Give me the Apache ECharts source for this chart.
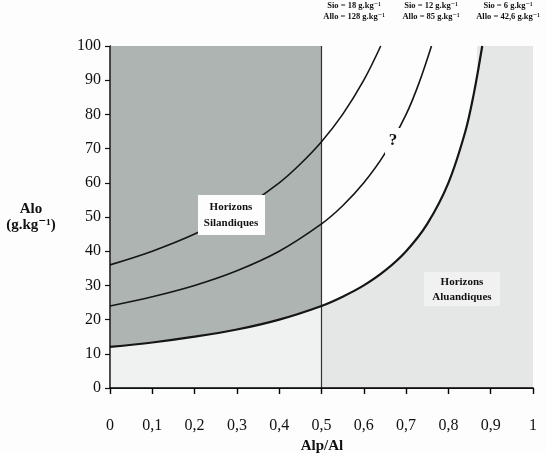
<!DOCTYPE html>
<html>
<head>
<meta charset="utf-8">
<script src="https://cdn.jsdelivr.net/npm/echarts@6/dist/echarts.min.js"></script>
<style>
html,body{margin:0;padding:0;background:#fdfdfd;}
#chart{width:547px;height:453px;}
</style>
</head>
<body>
<div id="chart"></div>
<script>
// Data
const xTicks = [0,0.1,0.2,0.3,0.4,0.5,0.6,0.7,0.8,0.9,1];
const yTicks = [0,10,20,30,40,50,60,70,80,90,100];

const xBottom = [0,0.1,0.2,0.3,0.4,0.5,0.55,0.6,0.65,0.7,0.75,0.8,0.84,0.86,0.88];
const yBottom = [12,13.3,15,17.1,20,24,26.7,30,34.3,40,48,60,75,86,100];

const xMiddle = [0,0.1,0.2,0.3,0.4,0.5,0.55,0.6,0.65,0.7,0.73,0.76];
const yMiddle = [24,26.7,30,34.3,40,48,53.3,60,68.6,80,89,100];

const xTop = [0,0.1,0.2,0.3,0.4,0.45,0.5,0.55,0.6,0.64];
const yTop = [36,40,45,51.4,60,65.5,72,80,90,100];

const boundaryX = 0.5;
const yMax = 100;

const curveLabels = [
  ['Sio = 18 g.kg⁻¹','Allo = 128 g.kg⁻¹'],
  ['Sio = 12 g.kg⁻¹','Allo = 85 g.kg⁻¹'],
  ['Sio = 6 g.kg⁻¹','Allo = 42,6 g.kg⁻¹']
];

const pairs = (xs, ys) => xs.map((x,i)=>[x, ys[i]]);
const bottom = pairs(xBottom, yBottom);
const bottomLeft = bottom.filter(p => p[0] <= boundaryX);
const bottomRight = bottom.filter(p => p[0] >= boundaryX);
const lastX = xBottom[xBottom.length-1];

const serif = "'Liberation Serif','DejaVu Serif',serif";
const chart = echarts.init(document.getElementById('chart'));
const SM = 0.35;

const option = {
  animation:false,
  backgroundColor:'#fdfdfd',
  grid:{left:110,right:14,top:46,bottom:65},
  xAxis:{
    type:'value',min:0,max:1,interval:0.1,
    axisLine:{show:true,onZero:false,lineStyle:{color:'#000',width:1.6}},
    axisTick:{show:true,length:6,lineStyle:{color:'#000',width:1.4}},
    splitLine:{show:false},
    axisLabel:{color:'#111',fontFamily:serif,fontSize:16,margin:24,padding:[6,0,0,0],
      formatter:v=>String(Math.round(v*10)/10).replace('.',',')}
  },
  yAxis:{
    type:'value',min:0,max:100,interval:10,
    axisLine:{show:true,onZero:false,lineStyle:{color:'#111',width:1.3}},
    axisTick:{show:true,length:5,lineStyle:{color:'#111',width:1.2}},
    splitLine:{show:false},
    axisLabel:{color:'#111',fontFamily:serif,fontSize:16,margin:9}
  },
  series:[
    {type:'line',name:'dark',data:[[0,yMax],[boundaryX,yMax]],symbol:'none',
     lineStyle:{width:0},areaStyle:{color:'#aeb4b2',opacity:1},z:1,silent:true},
    {type:'line',name:'rightfull',data:[[lastX-0.012,yMax],[1,yMax]],symbol:'none',
     lineStyle:{width:0},areaStyle:{color:'#e5e6e6',opacity:1},z:1,silent:true},
    {type:'line',name:'leftbelow',data:bottomLeft,symbol:'none',smooth:SM,
     lineStyle:{width:0},areaStyle:{color:'#f0f2f2',opacity:1},z:1,silent:true},
    {type:'line',name:'rightbelow',data:bottomRight,symbol:'none',smooth:SM,
     lineStyle:{width:0},areaStyle:{color:'#e5e6e6',opacity:1},z:1,silent:true},
    {type:'line',name:'vline',data:[[boundaryX,0],[boundaryX,yMax]],symbol:'none',
     lineStyle:{color:'#333',width:1.2},z:2,silent:true},
    {type:'line',name:'xline',data:[[0,0],[1,0]],symbol:'none',clip:false,
     lineStyle:{color:'#000',width:1.6},z:10,silent:true},
    {type:'line',name:'yline',data:[[0,0],[0,yMax]],symbol:'none',clip:false,
     lineStyle:{color:'#111',width:1.4},z:10,silent:true},
    {type:'line',name:'top',data:pairs(xTop,yTop),symbol:'none',smooth:SM,
     lineStyle:{color:'#151515',width:1.6},z:3},
    {type:'line',name:'middle',data:pairs(xMiddle,yMiddle),symbol:'none',smooth:SM,
     lineStyle:{color:'#151515',width:1.6},z:3},
    {type:'line',name:'bottom',data:bottom,symbol:'none',smooth:SM,
     lineStyle:{color:'#151515',width:2.2},z:3}
  ],
  graphic:[]
};
chart.setOption(option);

const g = [];
const labelCenters = [354, 431, 508];
curveLabels.forEach((lines, i) => {
  lines.forEach((t, j) => {
    g.push({type:'text',x:labelCenters[i],y:6+j*11,z:20,
      style:{text:t,fill:'#111',font:"bold 8.5px "+serif,textAlign:'center',textVerticalAlign:'middle'}});
  });
});
g.push({type:'text',x:31,y:209,z:20,style:{text:'Alo',fill:'#111',font:"bold 15px "+serif,textAlign:'center',textVerticalAlign:'middle'}});
g.push({type:'text',x:31,y:225,z:20,style:{text:'(g.kg⁻¹)',fill:'#111',font:"bold 15px "+serif,textAlign:'center',textVerticalAlign:'middle'}});
g.push({type:'text',x:322,y:446,z:20,style:{text:'Alp/Al',fill:'#111',font:"bold 15px "+serif,textAlign:'center',textVerticalAlign:'middle'}});
g.push({type:'rect',shape:{x:198,y:195,width:67,height:40},z:15,style:{fill:'#fdfdfd'}});
g.push({type:'text',x:231,y:207,z:20,style:{text:'Horizons',fill:'#111',font:"bold 11px "+serif,textAlign:'center',textVerticalAlign:'middle'}});
g.push({type:'text',x:231,y:223,z:20,style:{text:'Silandiques',fill:'#111',font:"bold 11px "+serif,textAlign:'center',textVerticalAlign:'middle'}});
g.push({type:'rect',shape:{x:424,y:272,width:76,height:34},z:15,style:{fill:'#f1f1f1'}});
g.push({type:'text',x:462,y:282,z:20,style:{text:'Horizons',fill:'#111',font:"bold 11px "+serif,textAlign:'center',textVerticalAlign:'middle'}});
g.push({type:'text',x:462,y:297,z:20,style:{text:'Aluandiques',fill:'#111',font:"bold 11px "+serif,textAlign:'center',textVerticalAlign:'middle'}});
g.push({type:'rect',shape:{x:385,y:128,width:16,height:26},z:15,style:{fill:'#fdfdfd'}});
g.push({type:'text',x:393,y:141,z:20,style:{text:'?',fill:'#111',font:"bold 17px "+serif,textAlign:'center',textVerticalAlign:'middle'}});
chart.setOption({graphic:g});
</script>
</body>
</html>
